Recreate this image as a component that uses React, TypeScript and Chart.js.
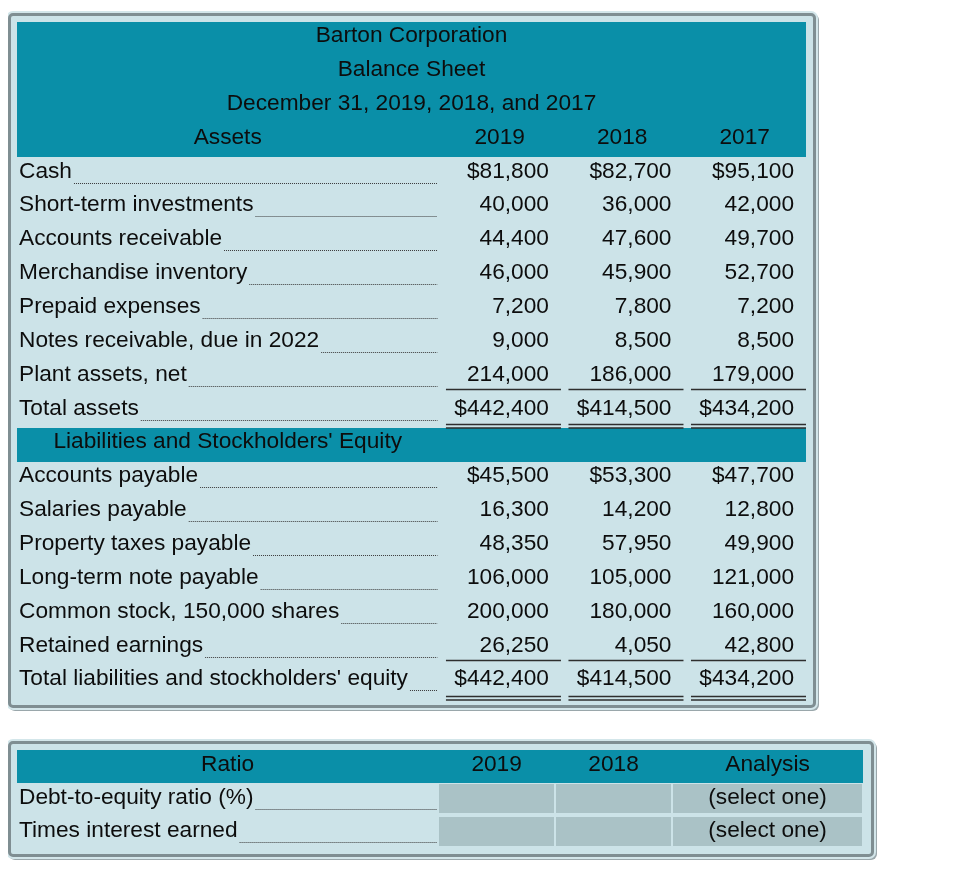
import React, { useEffect, useRef } from "react";
import { Chart, registerables } from "chart.js";

Chart.register(...registerables);

// ---------------- data ----------------
const TITLE_LINES = ["Barton Corporation", "Balance Sheet", "December 31, 2019, 2018, and 2017"];
const ASSETS_HEADER = "Assets";
const YEARS = ["2019", "2018", "2017"];

const ASSET_LABELS = [
  "Cash",
  "Short-term investments",
  "Accounts receivable",
  "Merchandise inventory",
  "Prepaid expenses",
  "Notes receivable, due in 2022",
  "Plant assets, net",
  "Total assets",
];
const ASSETS_2019 = [81800, 40000, 44400, 46000, 7200, 9000, 214000, 442400];
const ASSETS_2018 = [82700, 36000, 47600, 45900, 7800, 8500, 186000, 414500];
const ASSETS_2017 = [95100, 42000, 49700, 52700, 7200, 8500, 179000, 434200];

const LIAB_HEADER = "Liabilities and Stockholders' Equity";
const LIAB_LABELS = [
  "Accounts payable",
  "Salaries payable",
  "Property taxes payable",
  "Long-term note payable",
  "Common stock, 150,000 shares",
  "Retained earnings",
  "Total liabilities and stockholders' equity",
];
const LIAB_2019 = [45500, 16300, 48350, 106000, 200000, 26250, 442400];
const LIAB_2018 = [53300, 14200, 57950, 105000, 180000, 4050, 414500];
const LIAB_2017 = [47700, 12800, 49900, 121000, 160000, 42800, 434200];

const RATIO_HEADER = "Ratio";
const RATIO_COLUMNS = ["2019", "2018", "Analysis"];
const RATIO_LABELS = ["Debt-to-equity ratio (%)", "Times interest earned"];
const RATIO_ANALYSIS = ["(select one)", "(select one)"];

// ---------------- style ----------------
const FONT = "22.7px 'Liberation Sans', Arial, Helvetica, sans-serif";
const TEAL = "#0a8fa8";
const BODY = "#cce3e8";
const CELL_GRAY = "#aac2c6";
const INK = "#0d0d0d";
const RULE = "#2e2e2e";
const LEADER = "#3a3a3a";
const BORDER = "#7f8e92";

const BS_COL_UNITS = [3.44, 1, 1, 1];
const RATIO_COL_UNITS = [3.6, 1, 1, 1.632];

type Row = {
  kind: "title" | "colhead" | "item" | "section" | "input";
  text: string;
  cells?: string[];
  teal?: boolean;
  underline?: "single" | "double" | null;
};

const fmt = (n: number, dollar: boolean) =>
  (dollar ? "$" : "") + String(n).replace(/\B(?=(\d{3})+(?!\d))/g, ",");

function buildBalanceRows(): Row[] {
  const rows: Row[] = [];
  TITLE_LINES.forEach((t) => rows.push({ kind: "title", text: t, teal: true }));
  rows.push({ kind: "colhead", text: ASSETS_HEADER, cells: YEARS, teal: true });
  const addSection = (labels: string[], a: number[], b: number[], c: number[]) => {
    const last = labels.length - 1;
    labels.forEach((label, i) => {
      const dollar = i === 0 || i === last;
      rows.push({
        kind: "item",
        text: label,
        cells: [fmt(a[i], dollar), fmt(b[i], dollar), fmt(c[i], dollar)],
        underline: i === last - 1 ? "single" : i === last ? "double" : null,
      });
    });
  };
  addSection(ASSET_LABELS, ASSETS_2019, ASSETS_2018, ASSETS_2017);
  rows.push({ kind: "section", text: LIAB_HEADER, teal: true });
  addSection(LIAB_LABELS, LIAB_2019, LIAB_2018, LIAB_2017);
  return rows;
}

function buildRatioRows(): Row[] {
  const rows: Row[] = [{ kind: "colhead", text: RATIO_HEADER, cells: RATIO_COLUMNS, teal: true }];
  RATIO_LABELS.forEach((label, i) =>
    rows.push({ kind: "input", text: label, cells: ["", "", RATIO_ANALYSIS[i]] })
  );
  return rows;
}

function makeTablePlugin(rows: Row[], colUnits: number[], baselineOffset: number) {
  return {
    id: "tableDraw",
    afterDraw(chart: any) {
      const ctx: CanvasRenderingContext2D = chart.ctx;
      const xs = chart.scales.x;
      const ys = chart.scales.y;
      const edges = [0];
      colUnits.forEach((u) => edges.push(edges[edges.length - 1] + u));
      const X = (v: number) => xs.getPixelForValue(v);
      const Y = (v: number) => ys.getPixelForValue(v);
      const left = Math.round(X(0));
      const right = Math.round(X(edges[edges.length - 1]));
      ctx.save();

      // teal bands (merge consecutive rows)
      let i = 0;
      while (i < rows.length) {
        if (rows[i].teal) {
          let j = i;
          while (j + 1 < rows.length && rows[j + 1].teal) j++;
          const t = Math.round(Y(i));
          const b = Math.round(Y(j + 1));
          ctx.fillStyle = TEAL;
          ctx.fillRect(left, t, right - left, b - t);
          i = j + 1;
        } else i++;
      }

      ctx.font = FONT;
      ctx.textBaseline = "alphabetic";
      const col0R = X(edges[1]);

      const hline = (x1: number, x2: number, y: number, w: number, color: string, dash: number[]) => {
        ctx.beginPath();
        ctx.setLineDash(dash);
        ctx.strokeStyle = color;
        ctx.lineWidth = w;
        ctx.moveTo(x1, y);
        ctx.lineTo(x2, y);
        ctx.stroke();
        ctx.setLineDash([]);
      };

      rows.forEach((row, r) => {
        const top = Y(r);
        const bot = Y(r + 1);
        const base = Math.round(top + baselineOffset);
        ctx.fillStyle = INK;

        if (row.kind === "title") {
          ctx.textAlign = "center";
          ctx.fillText(row.text, (left + right) / 2, base);
          return;
        }
        if (row.kind === "colhead" || row.kind === "section") {
          ctx.textAlign = "center";
          ctx.fillText(row.text, (left + col0R) / 2, base);
          (row.cells || []).forEach((c, k) => {
            const cl = X(edges[k + 1]);
            const cr = X(edges[k + 2]);
            ctx.fillText(c, (cl + cr) / 2, base);
          });
          return;
        }
        // label + dotted leader
        ctx.textAlign = "left";
        const lx = left + 2;
        ctx.fillText(row.text, lx, base);
        const tw = ctx.measureText(row.text).width;
        hline(lx + tw + 2, col0R - 1, Math.round(base + 4.5) + 0.5, 1, LEADER, [1, 1]);

        (row.cells || []).forEach((c, k) => {
          const cl = X(edges[k + 1]);
          const cr = X(edges[k + 2]);
          if (row.kind === "input") {
            ctx.fillStyle = CELL_GRAY;
            ctx.fillRect(Math.round(cl) + 1, Math.round(top) + 1, Math.round(cr) - Math.round(cl) - 2, Math.round(bot) - Math.round(top) - 4);
            if (c) {
              ctx.fillStyle = INK;
              ctx.textAlign = "center";
              ctx.fillText(c, (cl + cr) / 2, base);
            }
          } else {
            ctx.fillStyle = INK;
            ctx.textAlign = "right";
            ctx.fillText(c, cr - 12, base);
            if (row.underline === "single") {
              hline(cl + 7.5, cr, base + 8.5, 1.5, RULE, []);
            } else if (row.underline === "double") {
              const extra = r === rows.length - 1 ? 2 : 0;
              hline(cl + 7.5, cr, base + 9.5 + extra, 1.3, RULE, []);
              hline(cl + 7.5, cr, base + 13 + extra, 1.3, RULE, []);
            }
          }
        });
      });
      ctx.restore();
    },
  };
}

function makeChart(canvas: HTMLCanvasElement, rows: Row[], colUnits: number[], baselineOffset: number, padBottom: number) {
  const total = colUnits.reduce((a, b) => a + b, 0);
  return new Chart(canvas, {
    type: "scatter",
    data: { datasets: [] },
    options: {
      responsive: false,
      maintainAspectRatio: false,
      animation: false,
      events: [],
      layout: { padding: { top: 0, left: 0, right: 0, bottom: padBottom } },
      plugins: { legend: { display: false }, tooltip: { enabled: false } },
      scales: {
        x: { type: "linear", display: false, min: 0, max: total },
        y: { type: "linear", display: false, min: 0, max: rows.length, reverse: true },
      },
    },
    plugins: [makeTablePlugin(rows, colUnits, baselineOffset)],
  } as any);
}

export default function App() {
  const c1 = useRef<HTMLCanvasElement>(null);
  const c2 = useRef<HTMLCanvasElement>(null);

  useEffect(() => {
    const ch1 = makeChart(c1.current!, buildBalanceRows(), BS_COL_UNITS, 20.2, 7);
    const ch2 = makeChart(c2.current!, buildRatioRows(), RATIO_COL_UNITS, 20.5, 0);
    return () => {
      ch1.destroy();
      ch2.destroy();
    };
  }, []);

  const boxStyle: React.CSSProperties = {
    position: "absolute",
    left: 0,
    boxSizing: "border-box",
    border: `3px solid ${BORDER}`,
    borderRadius: 5,
    background: BODY,
    boxShadow: "0 0 0 2px #d3e6ea, 2px 2px 0 1px #9aa7ab",
  };

  return (
    <div style={{ position: "relative", width: 959, height: 860 }}>
      <div style={{ ...boxStyle, top: 5, width: 808, height: 695 }}>
        <canvas ref={c1} width={789} height={684} style={{ position: "absolute", left: 6, top: 6 }} />
      </div>
      <div style={{ ...boxStyle, top: 733, width: 866, height: 116 }}>
        <canvas ref={c2} width={846} height={99} style={{ position: "absolute", left: 6, top: 6 }} />
      </div>
    </div>
  );
}
